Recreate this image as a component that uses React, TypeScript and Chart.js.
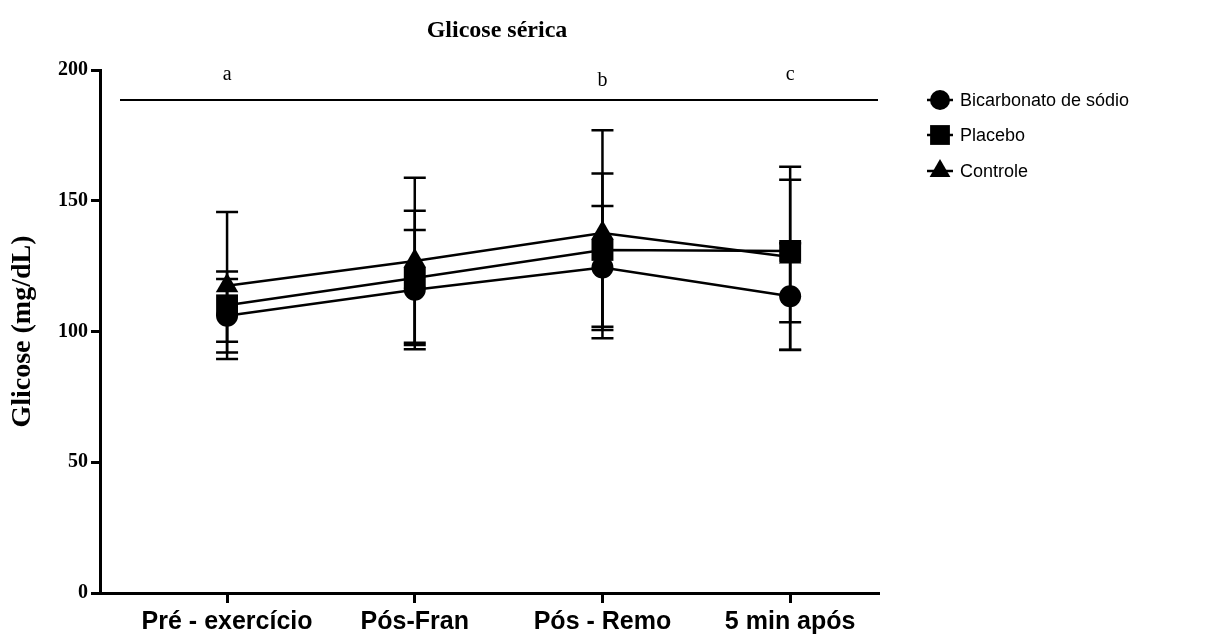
import React, { useEffect, useRef } from "react";
import { Chart, registerables } from "chart.js";

Chart.register(...registerables);

const categories = ["Pré - exercício", "Pós-Fran", "Pós - Remo", "5 min após"];
const seriesNames = ["Bicarbonato de sódio", "Placebo", "Controle"];
const bicarbMean = [106, 116, 124.5, 113.5];
const bicarbUpper = [120.1, 138.8, 148, 133.7];
const bicarbLower = [92, 93.2, 100.6, 92.9];
const placeboMean = [110, 120.5, 131.2, 130.8];
const placeboUpper = [122.9, 146.2, 160.4, 158];
const placeboLower = [96.1, 94.8, 101.8, 103.5];
const controlMean = [117.5, 127, 137.7, 128.5];
const controlUpper = [145.7, 158.8, 177, 163];
const controlLower = [89.5, 95.7, 97.4, 93];
const yTicks = [0, 50, 100, 150, 200];
const sigLetters = ["a", "", "b", "c"];
const sigLetterY = [198, 0, 196, 198];
const sigLineY = 188.5;

const pointStyles = ["circle", "rect", "triangle"];
const pointRadii = [11, 15.5, 13];
const means = [bicarbMean, placeboMean, controlMean];
const uppers = [bicarbUpper, placeboUpper, controlUpper];
const lowers = [bicarbLower, placeboLower, controlLower];

const serif = "'Liberation Serif', 'Times New Roman', serif";
const sans = "'Liberation Sans', Arial, sans-serif";

function drawMarker(ctx: CanvasRenderingContext2D, style: string, r: number, x: number, y: number) {
  ctx.beginPath();
  if (style === "circle") {
    ctx.arc(x, y, r, 0, Math.PI * 2);
  } else if (style === "rect") {
    const h = r * Math.SQRT1_2;
    ctx.rect(x - h, y - h, 2 * h, 2 * h);
  } else {
    const a = (2 * Math.PI) / 3;
    ctx.moveTo(x, y - r);
    ctx.lineTo(x + Math.sin(a) * r, y - Math.cos(a) * r);
    ctx.lineTo(x + Math.sin(2 * a) * r, y - Math.cos(2 * a) * r);
    ctx.closePath();
  }
  ctx.fill();
}

const errorBarPlugin = {
  id: "errorBars",
  beforeDatasetsDraw(chart: any) {
    const ctx = chart.ctx;
    const xs = chart.scales.x;
    const ys = chart.scales.y;
    ctx.save();
    ctx.strokeStyle = "#000";
    ctx.lineWidth = 2.5;
    for (let s = 0; s < means.length; s++) {
      for (let i = 0; i < categories.length; i++) {
        const x = xs.getPixelForValue(i);
        const yu = ys.getPixelForValue(uppers[s][i]);
        const yl = ys.getPixelForValue(lowers[s][i]);
        ctx.beginPath();
        ctx.moveTo(x, yu);
        ctx.lineTo(x, yl);
        ctx.moveTo(x - 11, yu);
        ctx.lineTo(x + 11, yu);
        ctx.moveTo(x - 11, yl);
        ctx.lineTo(x + 11, yl);
        ctx.stroke();
      }
    }
    ctx.restore();
  },
};

const decorPlugin = {
  id: "decor",
  afterDraw(chart: any) {
    const ctx = chart.ctx;
    const xs = chart.scales.x;
    const ys = chart.scales.y;
    ctx.save();
    ctx.fillStyle = "#000";
    ctx.font = `bold 24px ${serif}`;
    ctx.textAlign = "center";
    ctx.textBaseline = "middle";
    ctx.fillText("Glicose sérica", 497, 31);
    const ly = ys.getPixelForValue(sigLineY);
    ctx.strokeStyle = "#000";
    ctx.lineWidth = 2;
    ctx.beginPath();
    ctx.moveTo(120, ly);
    ctx.lineTo(chart.chartArea.right, ly);
    ctx.stroke();
    ctx.font = `20px ${serif}`;
    for (let i = 0; i < sigLetters.length; i++) {
      if (!sigLetters[i]) continue;
      ctx.fillText(sigLetters[i], xs.getPixelForValue(i), ys.getPixelForValue(sigLetterY[i]));
    }
    const legendY = [100, 135, 171];
    ctx.font = `18px ${sans}`;
    ctx.textAlign = "left";
    for (let s = 0; s < seriesNames.length; s++) {
      const y = legendY[s];
      ctx.lineWidth = 2.5;
      ctx.beginPath();
      ctx.moveTo(927, y);
      ctx.lineTo(953, y);
      ctx.stroke();
      const r = s === 0 ? 10 : s === 1 ? 14 : 12;
      drawMarker(ctx, pointStyles[s], r, 940, y);
      ctx.fillText(seriesNames[s], 960, y + 1);
    }
    ctx.restore();
  },
};

export default function App() {
  const ref = useRef<HTMLCanvasElement | null>(null);
  useEffect(() => {
    if (!ref.current) return;
    const datasets = means.map((m, s) => ({
      label: seriesNames[s],
      data: m.map((v, i) => ({ x: i, y: v })),
      borderColor: "#000",
      backgroundColor: "#000",
      borderWidth: 2.5,
      pointStyle: pointStyles[s],
      pointRadius: pointRadii[s],
      pointBackgroundColor: "#000",
      pointBorderColor: "#000",
      pointBorderWidth: 0,
      tension: 0,
      fill: false,
    }));
    const chart = new Chart(ref.current, {
      type: "line",
      data: { datasets },
      options: {
        animation: false,
        responsive: false,
        events: [],
        layout: { padding: { top: 70, right: 350, left: 0, bottom: 0 } },
        plugins: { legend: { display: false }, tooltip: { enabled: false }, title: { display: false } },
        scales: {
          x: {
            type: "linear",
            min: -0.677,
            max: 3.468,
            afterBuildTicks: (scale: any) => {
              scale.ticks = categories.map((_, i) => ({ value: i }));
            },
            afterFit: (scale: any) => {
              scale.height = 47;
            },
            ticks: {
              callback: (v: any) => categories[v as number] ?? "",
              color: "#000",
              font: { family: sans, size: 25, weight: "bold" },
              padding: 4,
              maxRotation: 0,
              autoSkip: false,
            },
            grid: { display: true, drawOnChartArea: false, drawTicks: true, tickLength: 10, color: "#000", lineWidth: 3 },
            border: { display: true, color: "#000", width: 3 },
          },
          y: {
            min: 0,
            max: 200,
            afterBuildTicks: (scale: any) => {
              scale.ticks = yTicks.map((v) => ({ value: v }));
            },
            afterFit: (scale: any) => {
              scale.width = 100;
            },
            ticks: {
              color: "#000",
              font: { family: serif, size: 20, weight: "bold" },
              padding: 3,
            },
            grid: { display: true, drawOnChartArea: false, drawTicks: true, tickLength: 9, color: "#000", lineWidth: 3 },
            border: { display: true, color: "#000", width: 3 },
            title: {
              display: true,
              text: "Glicose (mg/dL)",
              color: "#000",
              font: { family: serif, size: 28, weight: "bold" },
              padding: { top: 6, bottom: 0 },
            },
          },
        },
      },
      plugins: [errorBarPlugin, decorPlugin],
    } as any);
    return () => chart.destroy();
  }, []);
  return (
    <div style={{ position: "absolute", left: 0, top: 0, width: 1228, height: 640 }}>
      <canvas ref={ref} width={1228} height={640} style={{ display: "block" }} />
    </div>
  );
}
